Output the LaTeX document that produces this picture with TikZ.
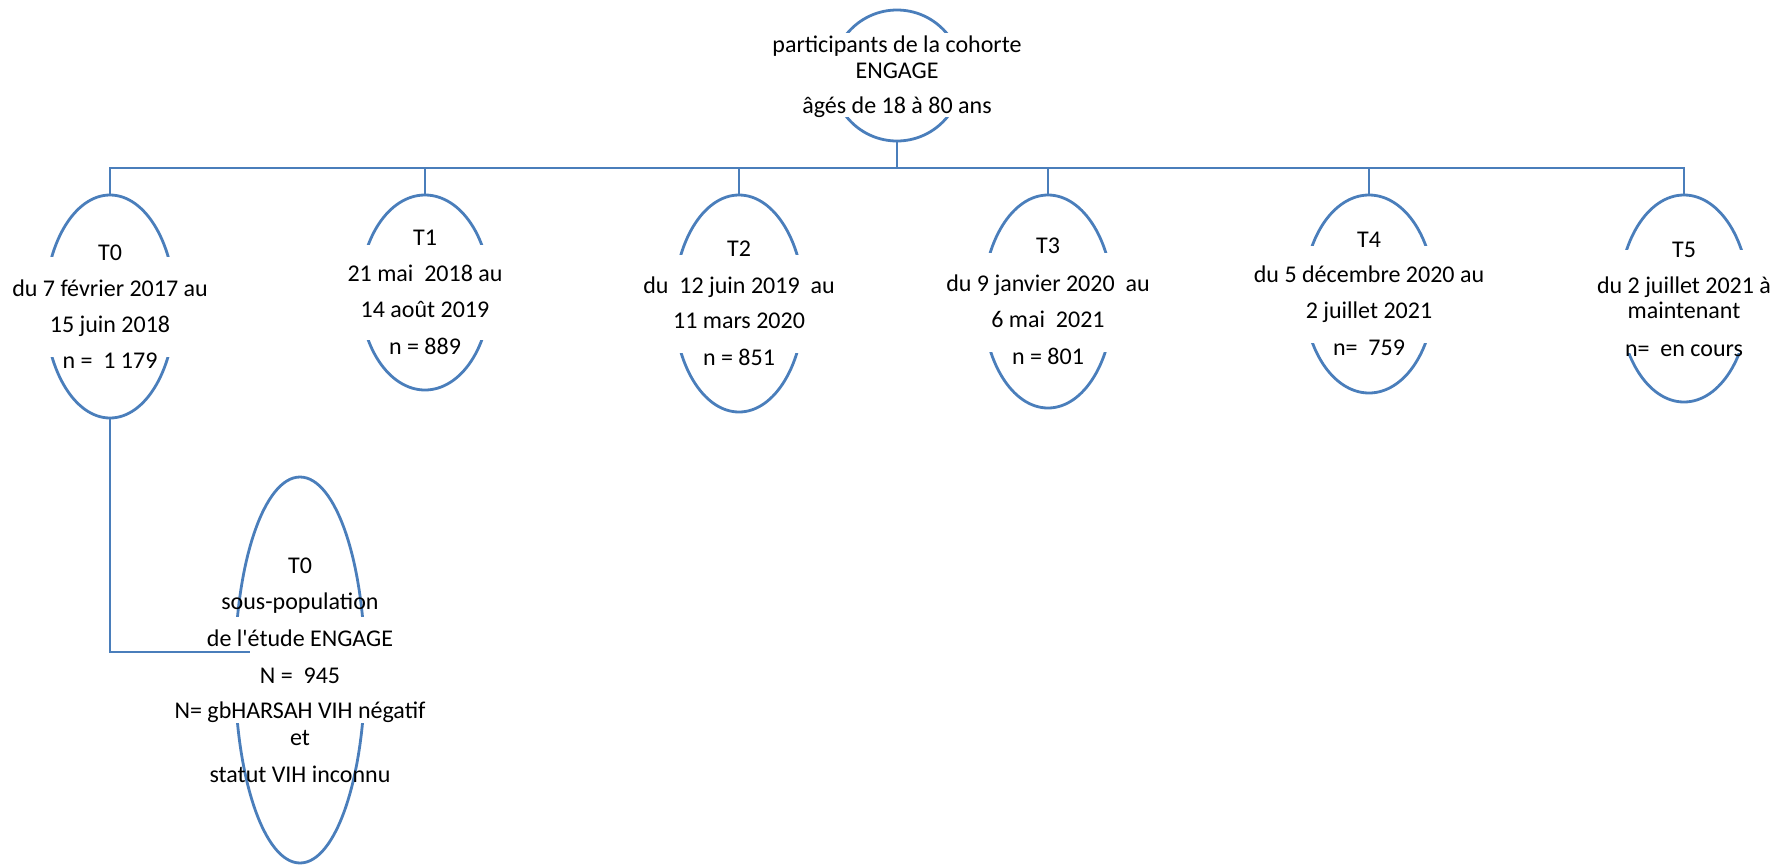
\documentclass[tikz,border=0pt]{standalone}
\usepackage{fontspec}
\setmainfont{Carlito}[Ligatures=TeXOff]
\usetikzlibrary{shapes.geometric}
\definecolor{lineblue}{RGB}{74,126,187}
\newcommand\myline[4]{\node[txt] (#1) at (#2,#3) {#4};}
\newcommand\myband[3]{\fill[white] (#1-70,#2) rectangle (#1+70,#3);}
\begin{document}
\begin{tikzpicture}[x=1pt,y=-1pt,
  oval/.style={ellipse, draw=lineblue, line width=2.8pt, minimum width=130pt, inner sep=0pt, outer sep=0pt},
  link/.style={draw=lineblue, line width=2.8pt},
  txt/.style={anchor=base, inner sep=0pt, font=\fontsize{24}{29}\selectfont}]
\useasboundingbox (0,0) rectangle (1791,865);
% ovals
\node[oval, minimum height=131pt] (top) at (897,75.5) {};
\node[oval, minimum height=223pt] (t0) at (110,306.5) {};
\node[oval, minimum height=195pt] (t1) at (425,292.5) {};
\node[oval, minimum height=217pt] (t2) at (739,303.5) {};
\node[oval, minimum height=213pt] (t3) at (1048,301.5) {};
\node[oval, minimum height=198pt] (t4) at (1369,294) {};
\node[oval, minimum height=207pt] (t5) at (1684,298.5) {};
\node[oval, minimum height=386pt] (sub) at (300,670) {};
% white text boxes
\myband{897}{33}{117}
\myband{110}{257}{357}
\myband{425}{245}{340}
\myband{739}{255}{353}
\myband{1048}{253}{352}
\myband{1369}{246}{343}
\myband{1684}{250}{353}
\myband{300}{617}{723}
% connectors
\coordinate (bus) at (897,168);
\foreach \c in {t0,t1,t2,t3,t4,t5}
  \draw[link] (top.south) -- (bus) -| (\c.north);
\coordinate (subin) at (250,652);
\draw[link] (t0.south) |- (subin);
% texts
\myline{topa}{897}{52}{participants de la cohorte}
\myline{topb}{897}{78}{ENGAGE}
\myline{topc}{897}{113}{âgés de 18 à 80 ans}
\myline{t0a}{110}{260}{T0}
\myline{t0b}{110}{296}{du 7 février 2017 au}
\myline{t0c}{110}{332}{15 juin 2018}
\myline{t0d}{110}{368}{n =\ \ 1 179}
\myline{t1a}{425}{245}{T1}
\myline{t1b}{425}{281}{21 mai\ \ 2018 au}
\myline{t1c}{425}{317}{14 août 2019}
\myline{t1d}{425}{354}{n = 889}
\myline{t2a}{739}{256}{T2}
\myline{t2b}{739}{293}{du\ \ 12 juin 2019\ \ au}
\myline{t2c}{739}{328}{11 mars 2020}
\myline{t2d}{739}{365}{n = 851}
\myline{t3a}{1048}{253}{T3}
\myline{t3b}{1048}{291}{du 9 janvier 2020\ \ au}
\myline{t3c}{1048}{327}{6 mai\ \ 2021}
\myline{t3d}{1048}{364}{n = 801}
\myline{t4a}{1369}{247}{T4}
\myline{t4b}{1369}{282}{du 5 décembre 2020 au}
\myline{t4c}{1369}{318}{2 juillet 2021}
\myline{t4d}{1369}{355}{n=\ \ 759}
\myline{t5a}{1684}{257}{T5}
\myline{t5b}{1684}{293}{du 2 juillet 2021 à}
\myline{t5c}{1684}{318}{maintenant}
\myline{t5d}{1684}{356}{n=\ \ en cours}
\myline{suba}{300}{573}{T0}
\myline{subb}{300}{609}{sous-population}
\myline{subc}{300}{646}{de l'étude ENGAGE}
\myline{subd}{300}{683}{N =\ \ 945}
\myline{sube}{300}{718}{N= gbHARSAH VIH négatif}
\myline{subf}{300}{745}{et}
\myline{subg}{300}{782}{statut VIH inconnu}
\end{tikzpicture}
\end{document}
